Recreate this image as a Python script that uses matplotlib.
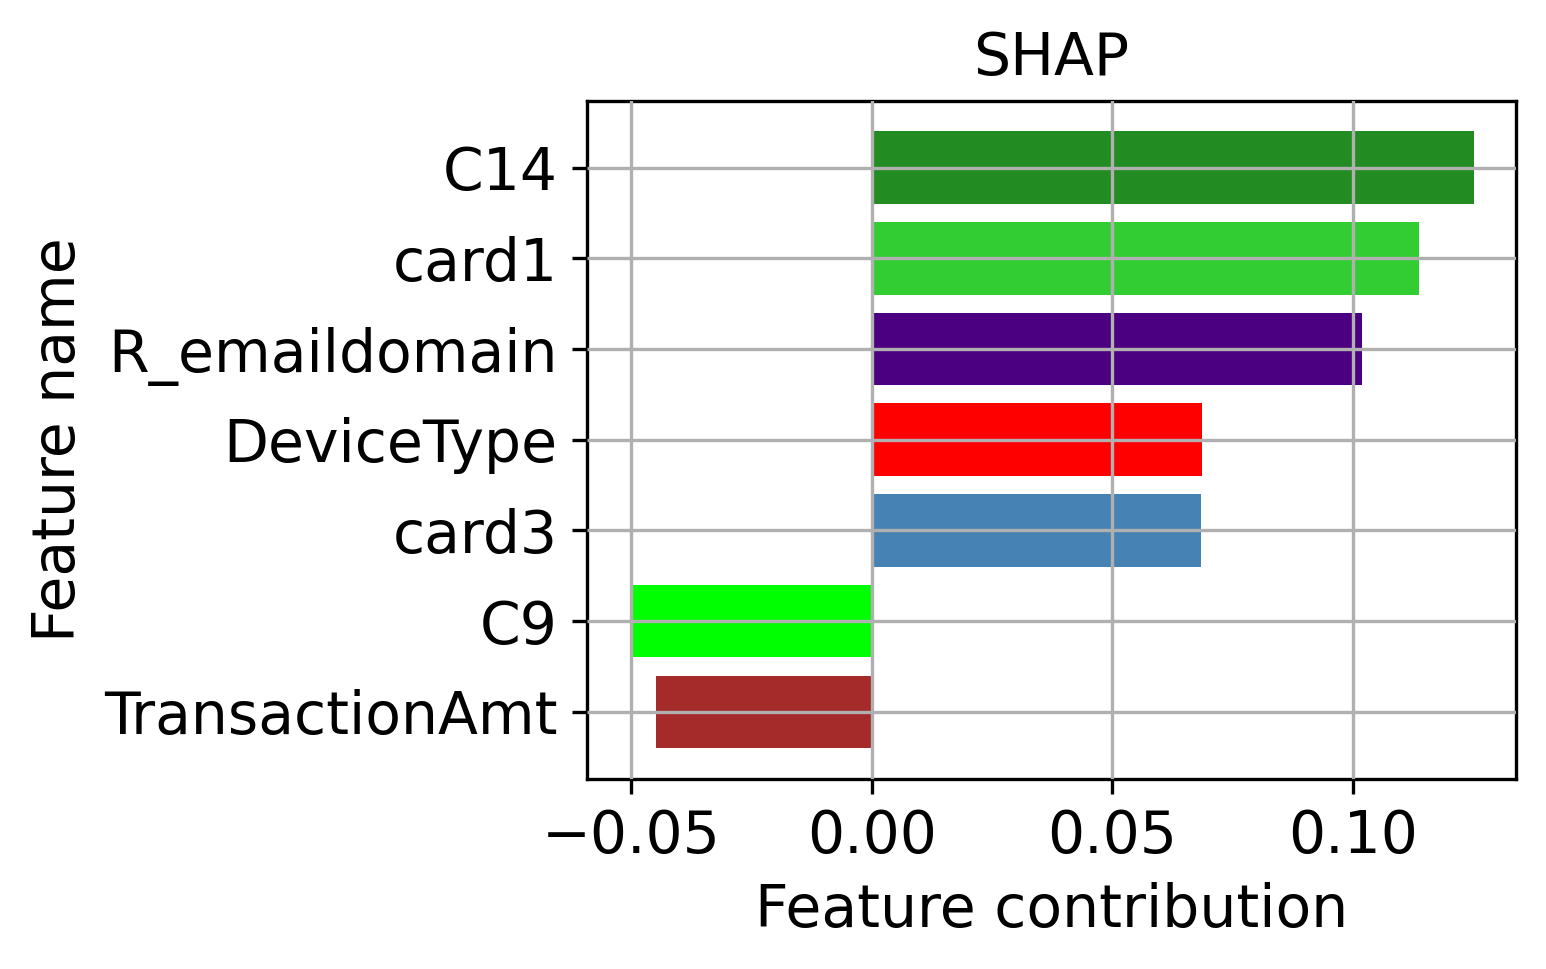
import matplotlib
matplotlib.use("Agg")
import matplotlib.pyplot as plt

features = ["TransactionAmt", "C9", "card3", "DeviceType", "R_emaildomain", "card1", "C14"]
values = [-0.0448, -0.0500, 0.0683, 0.0687, 0.1019, 0.1137, 0.1251]
colors = ["brown", "lime", "steelblue", "red", "indigo", "limegreen", "forestgreen"]

fig = plt.figure(figsize=(1546/300, 969/300), dpi=300)
ax = fig.add_axes([586.5/1546, 1-779/969, (1516-586.5)/1546, (779-100.5)/969])
ax.barh(features, values, color=colors, height=0.8)
ax.grid(True)
ax.set_axisbelow(False)
ax.set_title("SHAP", fontsize=14)
ax.set_xlabel("Feature contribution", fontsize=14)
ax.set_ylabel("Feature name", fontsize=14)
ax.tick_params(labelsize=14)
ax.set_xticks([-0.05, 0.0, 0.05, 0.10])
ax.set_xlim(-0.0592, 0.1338)
fig.savefig("out.png", dpi=300)
